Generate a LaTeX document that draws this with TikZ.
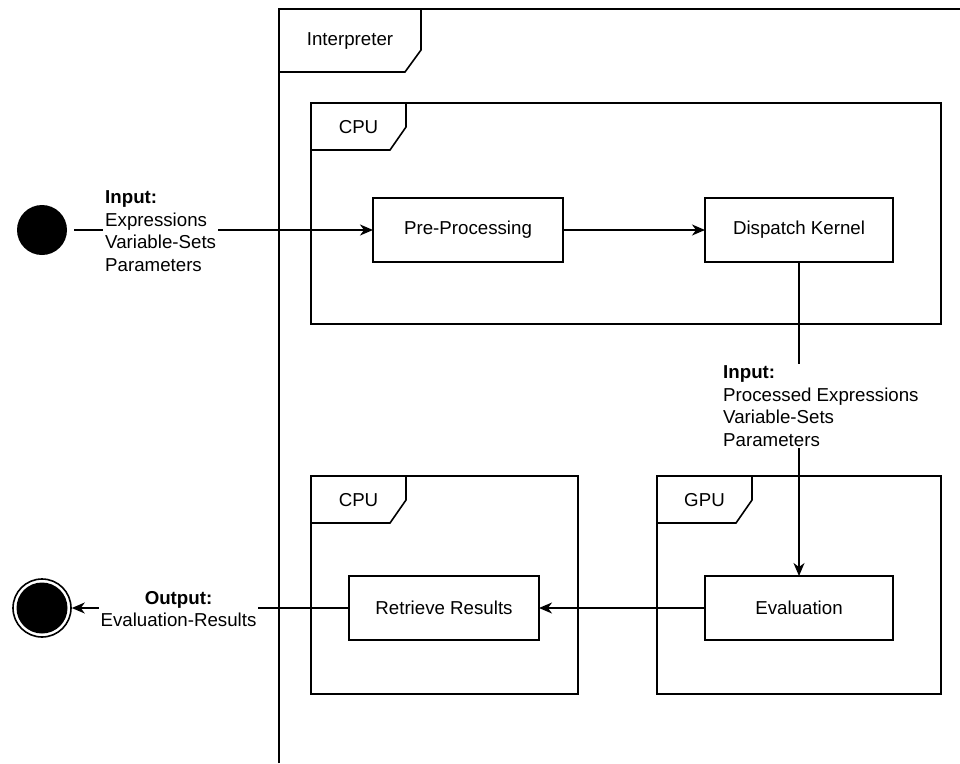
\documentclass[tikz,border=0pt]{standalone}
\usepackage{fontspec}
\setmainfont{Liberation Sans}
\usetikzlibrary{arrows.meta}
\tikzset{
  every node/.style={font=\fontsize{18.7}{22.5}\selectfont},
  ln/.style={line width=1.6pt, draw=black},
  arr/.style={ln, -{Stealth[length=13pt,width=11pt,inset=4pt]}},
  stepbox/.style={ln, rectangle, minimum height=64pt, inner sep=0pt, outer sep=0pt},
  frame/.style={ln, rectangle, inner sep=0pt, outer sep=0pt},
  lbl/.style={fill=white, inner sep=2pt, align=left},
}
\newcommand{\umltab}[2]{%
  \draw[ln, shift={(#1.north west)}] (0,47) -- (79,47) -- (95,24) -- (95,0);
  \path (#1.north west) ++(47.5,24) node {#2};
}
\begin{document}
\begin{tikzpicture}[x=1pt, y=-1pt]
\useasboundingbox (0,0) rectangle (960,763);
% Interpreter frame (extends beyond picture)
\coordinate (ibl) at (279,763);
\coordinate (itl) at (279,9);
\coordinate (itr) at (960,9);
\draw[ln] (ibl) -- (itl) -- (itr);
\draw[ln] (279,72) -- (405,72) -- (421,50) -- (421,9);
\node (interp) at (350,41) {Interpreter};

% containers
\node[frame, minimum width=630pt, minimum height=221pt] (cpu1) at (626,213.5) {};
\node[frame, minimum width=267pt, minimum height=218pt] (cpu2) at (444.5,585) {};
\node[frame, minimum width=284pt, minimum height=218pt] (gpu) at (799,585) {};
\umltab{cpu1}{CPU}
\umltab{cpu2}{CPU}
\umltab{gpu}{GPU}

% steps
\node[stepbox, minimum width=190pt] (pre) at (468,230) {Pre-Processing};
\node[stepbox, minimum width=188pt] (disp) at (799,230) {Dispatch Kernel};
\node[stepbox, minimum width=190pt] (retr) at (444,608) {Retrieve Results};
\node[stepbox, minimum width=188pt] (eval) at (799,608) {Evaluation};

% start / end
\node[circle, fill=black, minimum size=50pt, inner sep=0pt] (start) at (42,230) {};
\node[circle, ln, fill=white, minimum size=58pt, inner sep=0pt] (endc) at (42,608) {};
\fill (endc.center) circle (25.5pt);

% connectors
\draw[arr, shorten <=7pt] (start.east) -- (pre.west);
\draw[arr] (pre.east) -- (disp.west);
\draw[arr] (disp.south) -- (eval.north);
\draw[arr] (eval.west) -- (retr.east);
\draw[arr] (retr.west) -- (endc.east);

% labels
\node[lbl, anchor=west] (l1) at (103,231) {\textbf{Input:}\\Expressions\\Variable-Sets\\Parameters};
\node[lbl, anchor=west] (l2) at (721,406) {\textbf{Input:}\\Processed Expressions\\Variable-Sets\\Parameters};
\node[lbl, align=center] (l3) at (178.5,609) {\textbf{Output:}\\Evaluation-Results};
\end{tikzpicture}
\end{document}
